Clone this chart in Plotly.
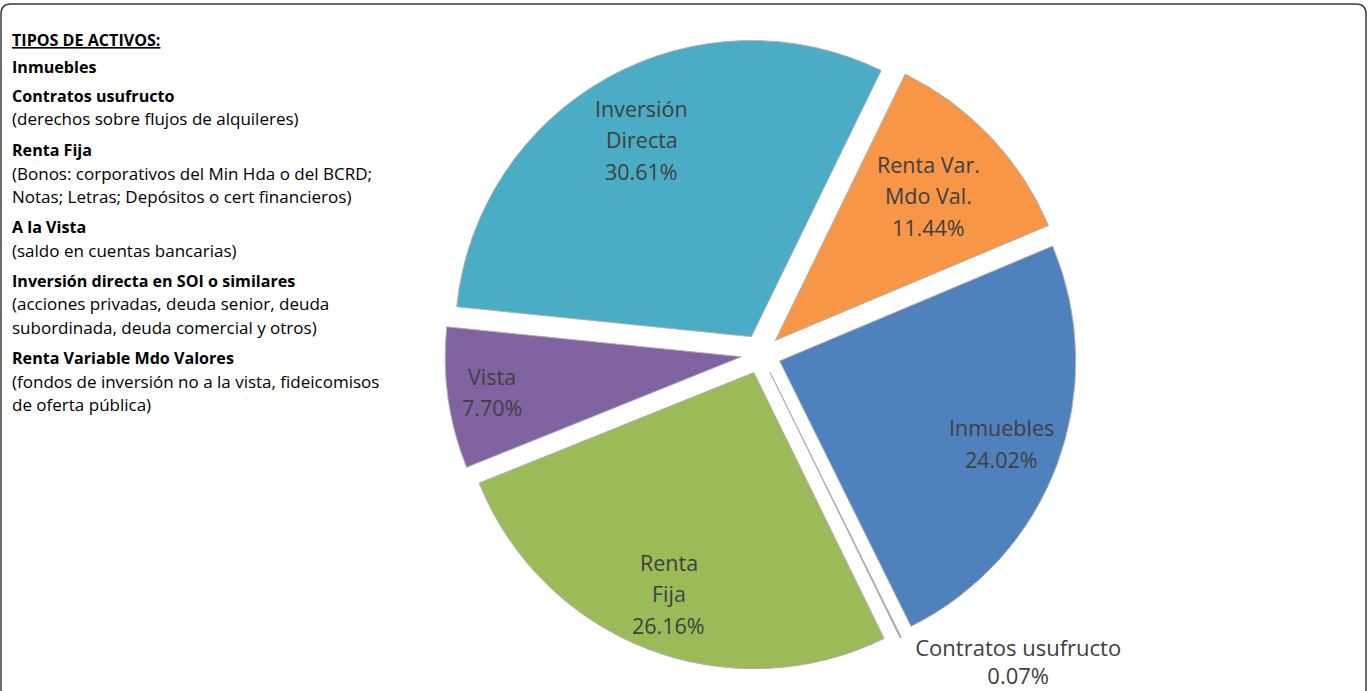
import math
import plotly.graph_objects as go

# ---- data ----
labels = ["Renta Var.<br>Mdo Val.", "Inmuebles", "Contratos usufructo", "Renta<br>Fija", "Vista", "Inversión<br>Directa"]
values = [11.44, 24.02, 0.07, 26.16, 7.70, 30.61]
colors = ["#F79646", "#4F81BD", "#A6A6A6", "#9BBB59", "#8064A2", "#4BACC6"]

legend_lines = [
    "<b><u>TIPOS DE ACTIVOS:</u></b>",
    "<b>Inmuebles</b>",
    "<b>Contratos usufructo</b>",
    "(derechos sobre flujos de alquileres)",
    "<b>Renta Fija</b>",
    "(Bonos: corporativos del Min Hda o del BCRD;",
    "Notas; Letras; Depósitos o cert financieros)",
    "<b>A la Vista</b>",
    "(saldo en cuentas bancarias)",
    "<b>Inversión directa en SOI o similares</b>",
    "(acciones privadas, deuda senior, deuda",
    "subordinada, deuda comercial y otros)",
    "<b>Renta Variable Mdo Valores</b>",
    "(fondos de inversión no a la vista, fideicomisos",
    "de oferta pública)",
]

# ---- layout / style ----
W, H = 1369, 691
FONT = "Open Sans"
TXT = "#404040"
ROTATION = 26
PULL = 0.067
CX, CY, HALF = 761, 354, 316          # pie domain centre / half size (px)
DOM_X = [CX - HALF, CX + HALF]
DOM_Y = [CY - HALF, CY + HALF]        # px from top
inside = [True, True, False, True, True, True]
label_r = [0.71, 0.80, 0, 0.80, 0.85, 0.76]   # label distance as fraction of radius
LABEL_SIZE = 21.5
LABEL_LINE = 31.5

fig = go.Figure()
fig.add_trace(go.Pie(
    labels=labels,
    values=values,
    sort=False,
    direction="clockwise",
    rotation=ROTATION,
    pull=[PULL] * len(values),
    marker=dict(colors=colors, line=dict(color="#b0b0b0", width=1)),
    texttemplate=["" if ins else "%{label}<br>%{percent:.2%}" for ins in inside],
    textposition=["none" if ins else "outside" for ins in inside],
    textfont=dict(family=FONT, size=22, color=TXT),
    showlegend=False,
    hoverinfo="label+percent",
    domain=dict(x=[DOM_X[0] / W, DOM_X[1] / W], y=[1 - DOM_Y[1] / H, 1 - DOM_Y[0] / H]),
))

# inside labels placed along each slice's mid-angle (computed from the values)
cx = (DOM_X[0] + DOM_X[1]) / 2
cy = (DOM_Y[0] + DOM_Y[1]) / 2
R = min(DOM_X[1] - DOM_X[0], DOM_Y[1] - DOM_Y[0]) / (2 * (1 + PULL))
total = sum(values)
cum = 0.0
for lab, v, ins, fr in zip(labels, values, inside, label_r):
    mid = ROTATION + 360 * (cum + v / 2) / total
    cum += v
    if not ins:
        continue
    a = math.radians(mid)
    d = R * (PULL + fr)
    px = cx + d * math.sin(a)
    py = cy - d * math.cos(a)
    lines = lab.split("<br>") + [f"{100 * v / total:.2f}%"]
    n = len(lines)
    for k, line in enumerate(lines):
        ly = py + (k - (n - 1) / 2) * LABEL_LINE
        fig.add_annotation(
            x=px / W, y=1 - ly / H, xref="paper", yref="paper",
            xanchor="center", yanchor="middle", showarrow=False,
            text=line, font=dict(family=FONT, size=LABEL_SIZE, color=TXT),
        )

# left text block
y = 40
step = 23
group_gap = [0, 4, 6, 0, 8, 0, 0, 8, 0, 8, 0, 0, 8, 0, 0]
for i, txt in enumerate(legend_lines):
    if i > 0:
        y += step + group_gap[i]
    bold = txt.startswith("<b>")
    fig.add_annotation(
        x=10 / W, y=1 - y / H, xref="paper", yref="paper",
        xanchor="left", yanchor="middle", showarrow=False,
        text=txt, font=dict(family=FONT, size=16.1 if bold else 17, color="#000000"),
    )

# rounded frame
rx, ry = 10 / W, 10 / H
x0, x1 = 1 / W, 1366 / W
ytop = 1 - 4 / H
ybot = -0.05
path = (f"M {x0},{ybot} L {x0},{ytop - ry} Q {x0},{ytop} {x0 + rx},{ytop} "
        f"L {x1 - rx},{ytop} Q {x1},{ytop} {x1},{ytop - ry} L {x1},{ybot}")
fig.add_shape(type="path", path=path, xref="paper", yref="paper",
              line=dict(color="#3a3a3a", width=1.5))

fig.update_layout(
    width=W, height=H,
    margin=dict(l=0, r=0, t=0, b=0, autoexpand=False),
    paper_bgcolor="white",
    plot_bgcolor="white",
)

fig.write_html(
    "out.html",
    config={"displayModeBar": False},
    post_script="document.body.style.margin='0';document.body.style.overflow='hidden';",
)
